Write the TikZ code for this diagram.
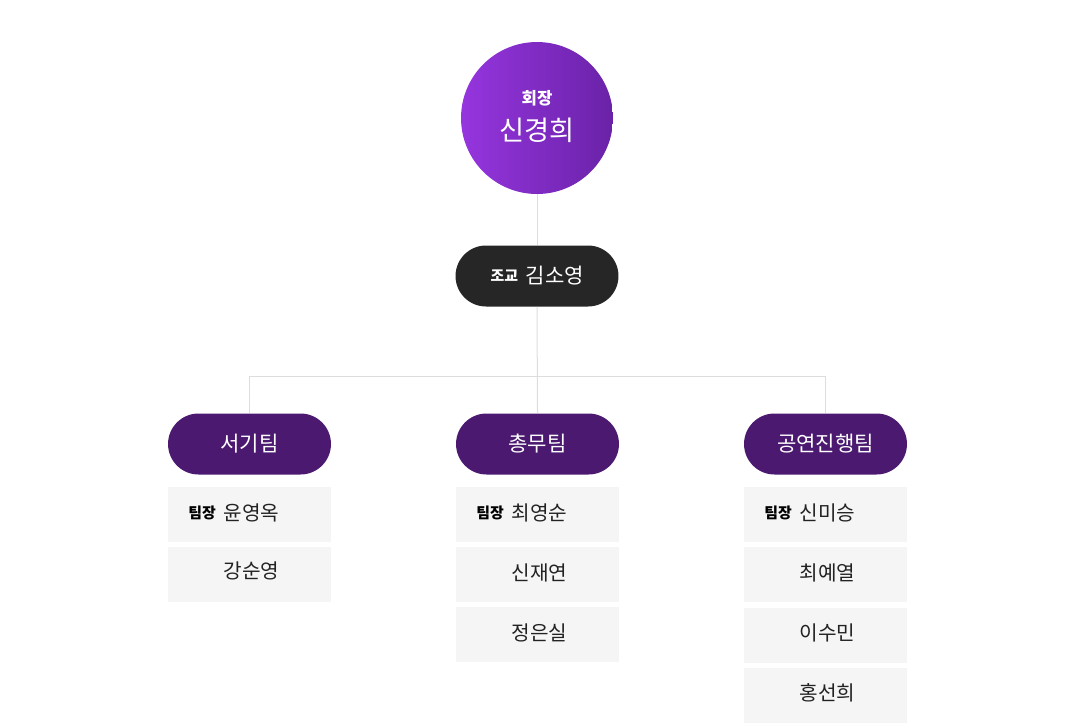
\documentclass[tikz,border=0pt]{standalone}
\usepackage{fontspec}
\setmainfont{Noto Sans CJK KR}
\usepackage{tikz}
\usetikzlibrary{positioning,calc}

\definecolor{purpleL}{HTML}{9535DE}
\definecolor{purpleR}{HTML}{6A22A8}
\definecolor{teamcol}{HTML}{4B1A70}
\definecolor{darkcol}{HTML}{262626}
\definecolor{boxcol}{HTML}{F5F5F5}
\definecolor{linecol}{HTML}{DDDDDD}
\definecolor{textcol}{HTML}{222222}

\tikzset{
    pill/.style={rectangle, rounded corners=0.61cm, minimum width=3.26cm, minimum height=1.22cm, inner sep=0pt},
    teambox/.style={pill, fill=teamcol, text=white, font=\fontsize{12}{14}\selectfont},
    member/.style={rectangle, fill=boxcol, minimum width=3.26cm, minimum height=1.1cm, inner sep=0pt},
    person/.style={text=textcol, font=\fontsize{11.5}{13}\selectfont, inner sep=0pt},
    role/.style={text=black, font=\bfseries\fontsize{8.5}{10}\selectfont, inner sep=0pt},
    link/.style={draw=linecol, line width=0.02cm}
}

\begin{document}
\begin{tikzpicture}[x=0.02cm, y=-0.02cm]
    \useasboundingbox (0,0) rectangle (1070,727);
    % President
    \node [circle, minimum size=3.04cm, inner sep=0pt, left color=purpleL, right color=purpleR] (president) at (537,118) {};
    \node [role, text=white, font=\bfseries\fontsize{9.5}{11}\selectfont] (presrole) at (537,98) {회장};
    \node [person, text=white, font=\fontsize{15.5}{17}\selectfont] (presname) at (537,130) {신경희};
    % Assistant
    \node [pill, fill=darkcol] (assistant) at (537,276) {};
    \node [person, text=white, font=\fontsize{12}{14}\selectfont] (assistname) at (555,276) {김소영};
    \node [role, text=white, left=4pt of assistname] (assistrole) {조교};
    % Teams
    \node [teambox] (team1) at (249.5,444) {서기팀};
    \node [teambox] (team2) at (537.5,444) {총무팀};
    \node [teambox] (team3) at (825.5,444) {공연진행팀};
    % Links
    \coordinate (branch) at (537,376);
    \draw [link] (president.south) -- (assistant.north);
    \draw [link] (assistant.south) -- (team2.north);
    \draw [link] (team1.north) -- (team1.north |- branch) -- (team3.north |- branch) -- (team3.north);
    % Team 1 members
    \node [member] (t1a) at (249.5,514.5) {};
    \node [person] (t1aname) at (251.5,513) {윤영옥};
    \node [role, left=4pt of t1aname] (t1arole) {팀장};
    \node [member] (t1b) at (249.5,574.5) {};
    \node [person] (t1bname) at (251.5,571) {강순영};
    % Team 2 members
    \node [member] (t2a) at (537.5,514.5) {};
    \node [person] (t2aname) at (539.5,513) {최영순};
    \node [role, left=4pt of t2aname] (t2arole) {팀장};
    \node [member] (t2b) at (537.5,574.5) {};
    \node [person] (t2bname) at (539.5,573) {신재연};
    \node [member] (t2c) at (537.5,634.5) {};
    \node [person] (t2cname) at (539.5,633) {정은실};
    % Team 3 members
    \node [member] (t3a) at (825.5,514.5) {};
    \node [person] (t3aname) at (827.5,513) {신미승};
    \node [role, left=4pt of t3aname] (t3arole) {팀장};
    \node [member] (t3b) at (825.5,574.5) {};
    \node [person] (t3bname) at (827.5,573) {최예열};
    \node [member] (t3c) at (825.5,635) {};
    \node [person] (t3cname) at (827.5,633) {이수민};
    \node [member] (t3d) at (825.5,695.5) {};
    \node [person] (t3dname) at (827.5,693) {홍선희};
\end{tikzpicture}
\end{document}
